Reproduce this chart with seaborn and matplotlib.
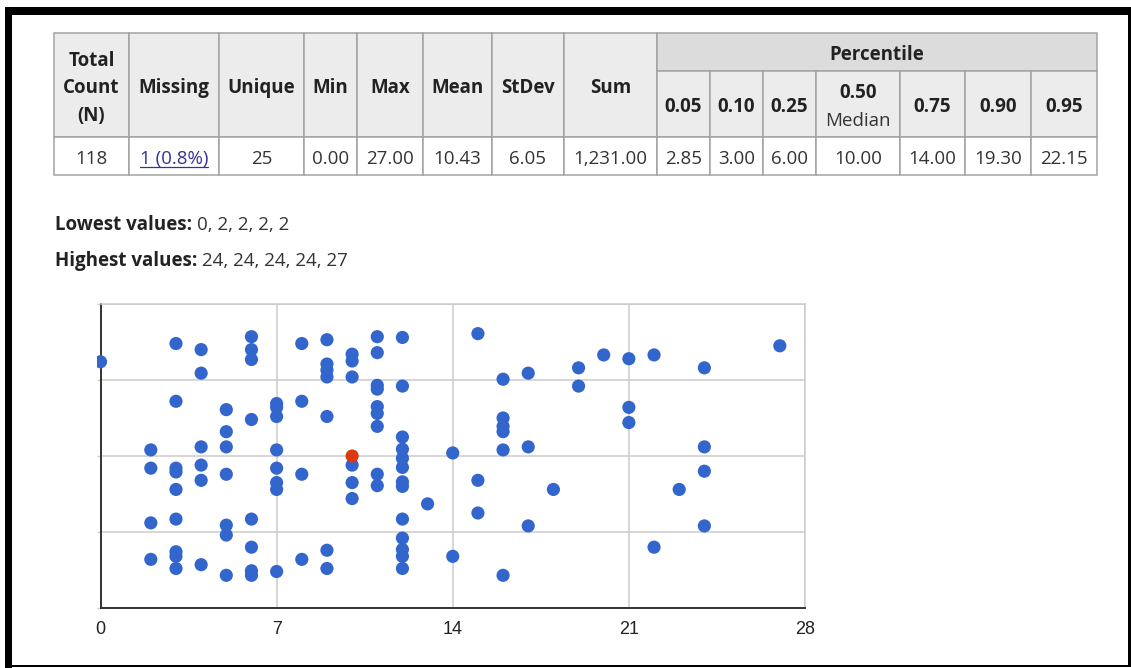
import matplotlib
matplotlib.use("Agg")
import matplotlib.pyplot as plt
import seaborn as sns
import pandas as pd
from matplotlib.patches import Rectangle
from matplotlib.transforms import Bbox, TransformedBbox

# ---- summary statistics ----
stat_headers = [["Total", "Count", "(N)"], ["Missing"], ["Unique"], ["Min"], ["Max"],
                ["Mean"], ["StDev"], ["Sum"]]
stat_values = ["118", "1 (0.8%)", "25", "0.00", "27.00", "10.43", "6.05", "1,231.00"]
percentile_labels = ["0.05", "0.10", "0.25", "0.50", "0.75", "0.90", "0.95"]
percentile_values = ["2.85", "3.00", "6.00", "10.00", "14.00", "19.30", "22.15"]
median_value = 10.0

lowest_values = [0, 2, 2, 2, 2]
highest_values = [24, 24, 24, 24, 27]

# ---- observations (value, vertical jitter) ----
obs_x = ([0] + [2] * 4 + [3] * 9 + [4] * 6 + [5] * 7 + [6] * 8 + [7] * 8 + [8] * 4
         + [9] * 7 + [10] * 6 + [11] * 9 + [12] * 13 + [13] + [14] * 2 + [15] * 3
         + [16] * 6 + [17] * 3 + [18] + [19] * 2 + [20] + [21] * 3 + [22] * 2 + [23]
         + [24] * 4 + [27])
obs_jitter = [
    3.24,
    2.08, 1.84, 1.12, 0.64,
    3.48, 2.72, 1.84, 1.79, 1.56, 1.17, 0.74, 0.68, 0.52,
    3.40, 3.09, 2.12, 1.88, 1.68, 0.57,
    2.61, 2.32, 2.12, 1.76, 1.09, 0.96, 0.43,
    3.57, 3.40, 3.27, 2.48, 1.17, 0.80, 0.49, 0.43,
    2.69, 2.64, 2.52, 2.08, 1.84, 1.65, 1.56, 0.48,
    3.48, 2.72, 1.76, 0.64,
    3.53, 3.21, 3.13, 3.04, 2.52, 0.76, 0.52,
    3.34, 3.25, 3.04, 1.88, 1.65, 1.44,
    3.57, 3.36, 2.93, 2.88, 2.65, 2.56, 2.39, 1.76, 1.61,
    3.56, 2.92, 2.25, 2.09, 1.97, 1.85, 1.66, 1.60, 1.17, 0.92, 0.77, 0.68, 0.52,
    1.37,
    2.04, 0.68,
    3.61, 1.68, 1.25,
    3.01, 2.50, 2.39, 2.32, 2.08, 0.43,
    3.09, 2.12, 1.08,
    1.56,
    3.16, 2.92,
    3.33,
    3.28, 2.64, 2.44,
    3.33, 0.80,
    1.56,
    3.16, 2.12, 1.80, 1.08,
    3.45,
]
x_ticks = [0, 7, 14, 21, 28]

W, H = 1131, 668
TEXT_FONT = ["Open Sans", "DejaVu Sans"]
AXIS_FONT = ["Liberation Sans", "DejaVu Sans"]
FS = 13.5
DY = 3  # baseline nudge for text placed by its centre

sns.set_theme(style="white")
plt.rcParams["font.family"] = TEXT_FONT

fig = plt.figure(figsize=(W / 100, H / 100), dpi=100)
fig.patch.set_facecolor("white")

# pixel-space canvas for the table, text and frame
bg = fig.add_axes([0, 0, 1, 1])
bg.set_xlim(0, W)
bg.set_ylim(H, 0)
bg.axis("off")

# frame
for (x0, y0, w, h) in [(5, 7, W - 5, 8), (5, 7, 7, H - 7), (5, 665, W - 5, 2), (1128, 7, 3, 660)]:
    bg.add_patch(Rectangle((x0, y0), w, h, facecolor="black", edgecolor="none"))

# table geometry
cols = [54, 129, 219, 304, 357, 423, 492, 564, 657, 710, 763, 816, 900, 965, 1031, 1097]
r_top, r_mid, r_head, r_bot = 33, 71, 137, 175
edge = "#a3a3a3"
head_fill = "#ececec"
group_fill = "#dcdcdc"
lw = 1.1


def cell(x0, x1, y0, y1, fill):
    bg.add_patch(Rectangle((x0, y0), x1 - x0, y1 - y0, facecolor=fill,
                           edgecolor=edge, linewidth=lw))


def put(x, y, s, bold=False, color="#333333", ha="center"):
    return bg.text(x, y + DY, s, ha=ha, va="center", fontsize=FS,
                   fontweight="bold" if bold else "normal", color=color)


# left statistic headers and values
for i, lines in enumerate(stat_headers):
    x0, x1 = cols[i], cols[i + 1]
    cx = (x0 + x1) / 2
    cell(x0, x1, r_top, r_head, head_fill)
    cell(x0, x1, r_head, r_bot, "white")
    n = len(lines)
    cy = (r_top + r_head) / 2
    for k, line in enumerate(lines):
        put(cx, cy + (k - (n - 1) / 2) * 27.5, line, bold=True, color="#222222")

missing_text = None
for i, val in enumerate(stat_values):
    cx = (cols[i] + cols[i + 1]) / 2
    t = put(cx, (r_head + r_bot) / 2, val, color="#333399" if i == 1 else "#333333")
    if i == 1:
        missing_text = t

# percentile group
cell(cols[8], cols[-1], r_top, r_mid, group_fill)
put((cols[8] + cols[-1]) / 2, (r_top + r_mid) / 2, "Percentile", bold=True, color="#222222")
for j, (lab, val) in enumerate(zip(percentile_labels, percentile_values)):
    x0, x1 = cols[8 + j], cols[9 + j]
    cx = (x0 + x1) / 2
    cell(x0, x1, r_mid, r_head, head_fill)
    cell(x0, x1, r_head, r_bot, "white")
    cy = (r_mid + r_head) / 2
    if lab == "0.50":
        put(cx, cy - 13.5, lab, bold=True, color="#222222")
        put(cx, cy + 13.5, "Median")
    else:
        put(cx, cy, lab, bold=True, color="#222222")
    put(cx, (r_head + r_bot) / 2, val)

# extreme values lines
label_low = put(55, 222, "Lowest values:", bold=True, color="#222222", ha="left")
label_high = put(55, 258, "Highest values:", bold=True, color="#222222", ha="left")

fig.canvas.draw()
renderer = fig.canvas.get_renderer()
inv = bg.transData.inverted()


def right_edge(t):
    bb = t.get_window_extent(renderer)
    return inv.transform((bb.x1, bb.y0))[0]


put(right_edge(label_low) + 5, 222, ", ".join(str(v) for v in lowest_values), ha="left")
put(right_edge(label_high) + 5, 258, ", ".join(str(v) for v in highest_values), ha="left")

# underline the missing-count link
bb = missing_text.get_window_extent(renderer)
(ux0, uy0), (ux1, _) = inv.transform([(bb.x0, bb.y0), (bb.x1, bb.y0)])
bg.plot([ux0, ux1], [uy0 - 1, uy0 - 1], color="#333399", lw=0.9)

# ---- scatter of the observations ----
ax = fig.add_axes([100.5 / W, (H - 608) / H, 704.5 / W, 304 / H])
df = pd.DataFrame({"value": obs_x, "jitter": obs_jitter})
sns.scatterplot(data=df, x="value", y="jitter", ax=ax, color="#3366cc", s=90,
                edgecolor="none", linewidth=0, zorder=3, legend=False)
sns.scatterplot(x=[median_value], y=[2.0], ax=ax, color="#dc3912", s=90,
                edgecolor="none", linewidth=0, zorder=4, legend=False)
for coll in ax.collections:
    coll.set_clip_path(None)
    coll.set_clip_box(TransformedBbox(Bbox([[-0.13, 0], [28, 4]]), ax.transData))

ax.set_xlim(0, 28)
ax.set_ylim(0, 4)
ax.set_xticks(x_ticks)
ax.set_xticklabels([str(t) for t in x_ticks], fontfamily=AXIS_FONT, fontsize=13,
                   color="#222222")
ax.set_yticks([0, 1, 2, 3, 4])
ax.set_yticklabels([])
ax.tick_params(axis="x", length=0, pad=9)
ax.tick_params(axis="y", length=3, width=1, color="#cccccc", left=True)
ax.set_xlabel("")
ax.set_ylabel("")
ax.grid(True, color="#cccccc", linewidth=1.1)
ax.set_axisbelow(True)
for side in ["top", "right"]:
    ax.spines[side].set_color("#cccccc")
    ax.spines[side].set_linewidth(1.1)
for side in ["left", "bottom"]:
    ax.spines[side].set_color("#333333")
    ax.spines[side].set_linewidth(1.4)
    ax.spines[side].set_zorder(2.5)
ax.set_facecolor("white")

fig.savefig("out.png", dpi=100, facecolor="white")
